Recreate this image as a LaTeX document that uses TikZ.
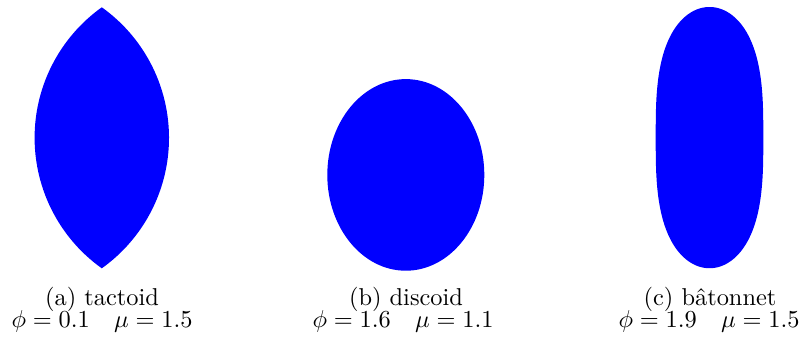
\documentclass[tikz,border=0pt]{standalone}
\begin{document}
\begin{tikzpicture}[x=0.41pt,y=-0.41pt,
  shapefill/.style={fill=blue,draw=none},
  caption/.style={anchor=base,inner sep=0pt,font=\fontsize{10}{12}\selectfont},
  declare function={spw(\t,\e)=exp(\e*ln(max(abs(\t),0.00001)));}]
\path[use as bounding box] (0,0) rectangle (802,342);
% (a) tactoid: lens of two circular arcs
\begin{scope}[shift={(101.8,137.8)},x=0.41pt,y=0.41pt]
  \fill[shapefill] (0,130.5) arc[start angle=54.5,end angle=-54.5,radius=160.3]
    arc[start angle=234.5,end angle=125.5,radius=160.3] -- cycle;
\end{scope}
% (b) discoid: ellipse
\begin{scope}[shift={(405.8,174.9)},x=0.41pt,y=0.41pt]
  \fill[shapefill] (0,0) ellipse[x radius=78.5,y radius=95.8];
\end{scope}
% (c) batonnet: (x/a)^2 + |y/b|^3 = 1
\begin{scope}[shift={(709.5,137.6)},x=0.41pt,y=0.41pt]
  \fill[shapefill] plot[domain=0.5:360.5,samples=361]
    ({53.8*cos(\x)},{130.6*sign(sin(\x))*spw(sin(\x),2/3)}) -- cycle;
\end{scope}
\node[caption] (ca1) at (102,305) {(a) tactoid};
\node[caption] (ca2) at (102,327) {$\phi=0.1\quad\mu=1.5$};
\node[caption] (cb1) at (406,305) {(b) discoid};
\node[caption] (cb2) at (403,327) {$\phi=1.6\quad\mu=1.1$};
\node[caption] (cc1) at (710,305) {(c) bâtonnet};
\node[caption] (cc2) at (709,327) {$\phi=1.9\quad\mu=1.5$};
\end{tikzpicture}
\end{document}
